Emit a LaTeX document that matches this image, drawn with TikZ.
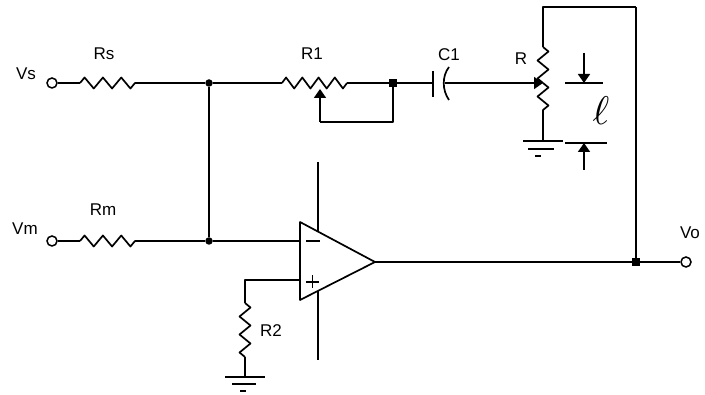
\documentclass[tikz,border=0pt]{standalone}
\usepackage{fontspec}
\setmainfont{Liberation Sans}
\usetikzlibrary{decorations.pathmorphing,arrows.meta}
\begin{document}
\begin{tikzpicture}[x=1pt,y=-1pt,
  wire/.style={line width=1.7pt, line join=round},
  res/.style={wire, decorate, decoration={zigzag, segment length=#1, amplitude=5.5pt}},
  res/.default=18pt,
  term/.style={circle, draw, line width=1.5pt, fill=white, inner sep=0pt, minimum size=10pt},
  dot/.style={circle, fill, inner sep=0pt, minimum size=7.5pt},
  sqdot/.style={rectangle, fill, inner sep=0pt, minimum size=7.5pt},
  lbl/.style={font=\fontsize{17}{17}\selectfont, inner sep=0pt},
  wiper/.style={wire, -{Triangle[length=9pt,width=12pt]}},
  gnd/.style={wire},
]
\useasboundingbox (0,0) rectangle (705,395);

% ---- coordinates ----
\coordinate (rsA) at (80,83);   \coordinate (rsB) at (135,83);
\coordinate (rmA) at (80,241);  \coordinate (rmB) at (135,241);
\coordinate (r1A) at (282,83);  \coordinate (r1B) at (347,83);
\coordinate (r1w) at (320,89);  \coordinate (r1d) at (320,122);
\coordinate (r1e) at (393,122);
\coordinate (c1a) at (433,83);  \coordinate (c1b) at (445,83);
\coordinate (rTop) at (543,7);  \coordinate (rA) at (543,47);
\coordinate (rW) at (543,83);   \coordinate (rB) at (543,113);
\coordinate (rG) at (543,141);
\coordinate (fbTop) at (636,7);
\coordinate (oaTL) at (300,222); \coordinate (oaBL) at (300,300);
\coordinate (oaOut) at (375,262);
\coordinate (inM) at (300,241);  \coordinate (inP) at (300,280);
\coordinate (r2T) at (245,280); \coordinate (r2A) at (245,303);
\coordinate (r2B) at (245,357); \coordinate (r2G) at (245,377);
\coordinate (railT1) at (318,162); \coordinate (railT2) at (318,231.6);
\coordinate (railB1) at (318,291); \coordinate (railB2) at (318,360);
\coordinate (lTop) at (584,53);  \coordinate (lT) at (584,83);
\coordinate (lBot) at (584,170); \coordinate (lB) at (584,143);

% ---- nodes ----
\node[term] (vs) at (52,83) {};
\node[term] (vm) at (52,241) {};
\node[term] (vo) at (686,262) {};
\node[dot] (j1) at (209,83) {};
\node[dot] (j2) at (209,241) {};
\node[sqdot] (j3) at (393,83) {};
\node[sqdot] (j4) at (636,262) {};

% ---- labels ----
\node[lbl] (tVs) at (26,74) {Vs};
\node[lbl] (tRs) at (104,54) {Rs};
\node[lbl] (tVm) at (25,229) {Vm};
\node[lbl] (tRm) at (103,210) {Rm};
\node[lbl] (tR1) at (312,54) {R1};
\node[lbl] (tC1) at (449,55) {C1};
\node[lbl] (tR) at (521,59) {R};
\node[lbl] (tR2) at (271,331) {R2};
\node[lbl] (tVo) at (690,233) {Vo};
\node[inner sep=0pt, scale=4] (tl) at (601,111) {$\ell$};

% ---- input branch Vs ----
\draw[wire] (vs) -- (rsA);
\draw[res=18.33pt] (rsA) -- (rsB);
\draw[wire] (rsB) -- (j1) -- (r1A);
\draw[res=16.25pt] (r1A) -- (r1B);
\draw[wire] (r1B) -- (j3) -- (c1a);
\draw[wiper] (r1d) -- (r1w);
\draw[wire] (r1d) -- (r1e) -- (j3);

% ---- capacitor C1 ----
\draw[wire] (433,71) -- (433,97);
\draw[wire] (449,67) .. controls (442,76) and (442,90) .. (449,100);
\draw[wiper] (c1b) -- (rW);

% ---- potentiometer R ----
\draw[wire] (fbTop) -- (rTop) -- (rA);
\draw[res=18pt] (rA) -- (rW);
\draw[res=18pt] (rW) -- (rB);
\draw[wire] (rB) -- (rG);
\draw[gnd, shift={(rG)}] (-20,0) -- (20,0) (-15,8) -- (11,8) (-8,15) -- (-2,15);

% ---- length marker ----
\draw[wire] (565,83) -- (603,83);
\draw[wire] (565,143) -- (607,143);
\draw[wiper] (lTop) -- (lT);
\draw[wiper] (lBot) -- (lB);

% ---- input branch Vm ----
\draw[wire] (vm) -- (rmA);
\draw[res=18.33pt] (rmA) -- (rmB);
\draw[wire] (rmB) -- (j2) -- (inM);
\draw[wire] (j1) -- (j2);

% ---- op-amp ----
\draw[wire] (oaTL) -- (oaOut) -- (oaBL) -- cycle;
\draw[wire] (railT1) -- (railT2);
\draw[wire] (railB1) -- (railB2);
\draw[wire] (306,241) -- (320,241);
\draw[wire] (306,282) -- (319,282) (312.5,275.5) -- (312.5,288.5);

% ---- non-inverting input with R2 ----
\draw[wire] (inP) -- (r2T) -- (r2A);
\draw[res=18pt] (r2A) -- (r2B);
\draw[wire] (r2B) -- (r2G);
\draw[gnd, shift={(r2G)}] (-20,0) -- (20,0) (-13,7) -- (11,7) (-5,14) -- (1,14);

% ---- output and feedback ----
\draw[wire] (oaOut) -- (j4) -- (vo);
\draw[wire] (j4) -- (fbTop);
\end{tikzpicture}
\end{document}
